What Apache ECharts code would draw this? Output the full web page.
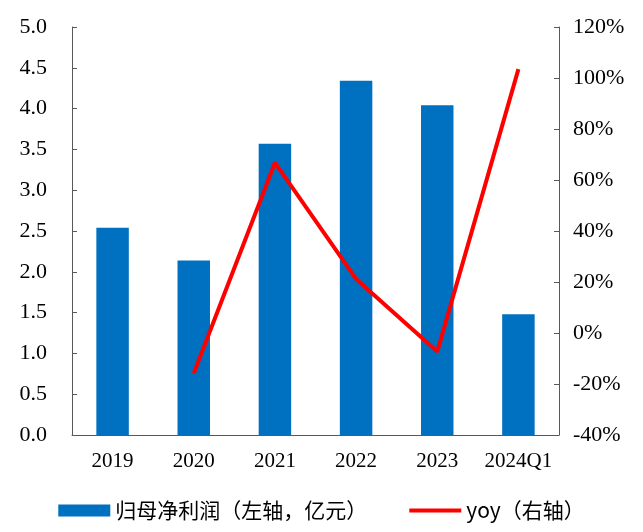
<!DOCTYPE html>
<html>
<head>
<meta charset="utf-8">
<script src="https://cdn.jsdelivr.net/npm/echarts@6/dist/echarts.min.js"></script>
<style>
html,body{margin:0;padding:0;background:#fff;}
#chart{width:643px;height:532px;}
</style>
</head>
<body>
<div id="chart"></div>
<script>
const categories = ['2019', '2020', '2021', '2022', '2023', '2024Q1'];
const profit = [2.54, 2.14, 3.57, 4.34, 4.04, 1.48];
const yoy = [null, -15.8, 66.8, 21.2, -7.3, 103.5];

const chart = echarts.init(document.getElementById('chart'));
const axisColor = '#595959';
const serif = '"Liberation Serif", "Times New Roman", serif';

const option = {
    animation: false,
    grid: { left: 72, right: 84, top: 27, bottom: 97 },
    legend: {
        bottom: 6,
        left: 'center',
        itemGap: 40,
        itemWidth: 52,
        itemHeight: 12,
        textStyle: { fontSize: 21, color: '#000', fontFamily: '"Noto Sans CJK SC", sans-serif' },
        data: [
            { name: '归母净利润（左轴，亿元）', icon: 'rect' },
            { name: 'yoy（右轴）', itemStyle: { opacity: 0 }, lineStyle: { width: 4, color: '#FF0000' } }
        ]
    },
    xAxis: {
        type: 'category',
        data: categories,
        axisLine: { lineStyle: { color: axisColor, width: 1 } },
        axisTick: { inside: true, length: 6, lineStyle: { color: axisColor } },
        axisLabel: { color: '#000', fontSize: 21, fontFamily: serif, margin: 16, interval: 0 }
    },
    yAxis: [
        {
            type: 'value',
            min: 0, max: 5, interval: 0.5,
            splitLine: { show: false },
            axisLine: { show: true, lineStyle: { color: axisColor } },
            axisTick: { show: true, inside: true, length: 5, lineStyle: { color: axisColor } },
            axisLabel: { color: '#000', fontSize: 22, fontFamily: serif, margin: 25,
                formatter: v => v.toFixed(1) }
        },
        {
            type: 'value',
            min: -40, max: 120, interval: 20,
            splitLine: { show: false },
            axisLine: { show: true, lineStyle: { color: axisColor } },
            axisTick: { show: true, inside: true, length: 5, lineStyle: { color: axisColor } },
            axisLabel: { color: '#000', fontSize: 22, fontFamily: serif, margin: 14,
                formatter: '{value}%' }
        }
    ],
    series: [
        {
            name: '归母净利润（左轴，亿元）',
            type: 'bar',
            data: profit,
            barWidth: '40%',
            itemStyle: { color: '#0070C0' }
        },
        {
            name: 'yoy（右轴）',
            type: 'line',
            yAxisIndex: 1,
            data: yoy,
            symbol: 'none',
            lineStyle: { color: '#FF0000', width: 4 },
            itemStyle: { color: '#FF0000' }
        }
    ]
};
chart.setOption(option);
</script>
</body>
</html>
